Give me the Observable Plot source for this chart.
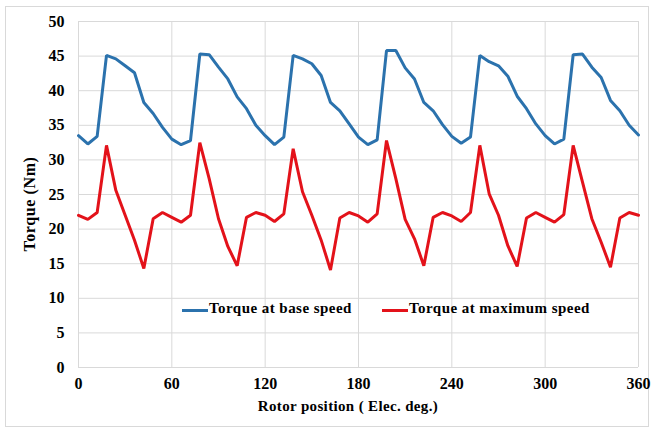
<!DOCTYPE html>
<html>
<head>
<meta charset="utf-8">
<script src="https://cdn.jsdelivr.net/npm/d3@7"></script>
<script src="https://cdn.jsdelivr.net/npm/@observablehq/plot@0.6"></script>
<style>
  html, body { margin: 0; padding: 0; background: #fff; }
  #wrap { position: relative; width: 655px; height: 430px; overflow: hidden; font-family: "Liberation Serif", serif; font-weight: bold; color: #000; }
  #border { position: absolute; left: 5px; top: 6px; width: 644px; height: 421px; border: 1px solid #d9d9d9; box-sizing: border-box; }
  #chart { position: absolute; left: 0; top: 0; }
  .lbl { position: absolute; white-space: nowrap; font-size: 15px; }
  .sw { position: absolute; height: 3px; }
</style>
</head>
<body>
<div id="wrap">
  <div id="border"></div>
  <div id="chart"></div>
</div>
<script>
const angles = [0,6,12,18,24,30,36,42,48,54,60,66,72,78,84,90,96,102,108,114,120,126,132,138,144,150,156,162,168,174,180,186,192,198,204,210,216,222,228,234,240,246,252,258,264,270,276,282,288,294,300,306,312,318,324,330,336,342,348,354,360];
const baseSpeed = [33.5,32.3,33.4,45.1,44.6,43.6,42.6,38.3,36.7,34.7,33.0,32.2,32.8,45.3,45.2,43.4,41.7,39.1,37.4,35.0,33.5,32.2,33.3,45.1,44.6,43.9,42.2,38.3,37.1,35.2,33.3,32.2,32.9,45.8,45.8,43.3,41.7,38.3,37.1,35.1,33.4,32.4,33.3,45.1,44.2,43.6,42.1,39.2,37.4,35.2,33.5,32.3,33.0,45.2,45.3,43.4,41.9,38.6,37.1,35.0,33.6];
const maxSpeed = [22.0,21.4,22.4,32.1,25.6,22.0,18.4,14.3,21.5,22.4,21.7,21.0,22.0,32.5,27.3,21.5,17.5,14.7,21.7,22.4,22.0,21.1,22.2,31.6,25.4,22.0,18.4,14.1,21.6,22.4,21.9,21.0,22.2,32.8,27.3,21.4,18.6,14.7,21.7,22.4,21.9,21.1,22.4,32.1,25.1,22.0,17.6,14.6,21.6,22.4,21.7,21.0,22.1,32.1,26.8,21.5,18.1,14.5,21.6,22.4,22.0];
const seriesNames = ["Torque at base speed", "Torque at maximum speed"];
const seriesColors = ["#2b72ad", "#e3121a"];
const xTicks = [0,60,120,180,240,300,360];
const yTicks = [0,5,10,15,20,25,30,35,40,45,50];
const xTitle = "Rotor position ( Elec. deg.)";
const yTitle = "Torque (Nm)";

const data = [];
angles.forEach((a, i) => {
  data.push({angle: a, torque: baseSpeed[i], series: seriesNames[0]});
  data.push({angle: a, torque: maxSpeed[i], series: seriesNames[1]});
});

const chart = Plot.plot({
  width: 655,
  height: 430,
  marginLeft: 78,
  marginRight: 17,
  marginTop: 21,
  marginBottom: 63,
  style: {fontFamily: "Liberation Serif, serif", fontWeight: "bold", fontSize: "16px", color: "#000", background: "transparent"},
  x: {domain: [0, 360], ticks: xTicks, label: null},
  y: {domain: [0, 50], ticks: yTicks, label: null},
  color: {domain: seriesNames, range: seriesColors},
  marks: [
    Plot.gridX(xTicks, {stroke: "#d9d9d9", strokeOpacity: 1, strokeWidth: 1}),
    Plot.gridY(yTicks, {stroke: "#d9d9d9", strokeOpacity: 1, strokeWidth: 1}),
    Plot.axisX({ticks: xTicks, tickSize: 0, tickPadding: 10, fontSize: 16, fontWeight: "bold", label: null}),
    Plot.axisY({ticks: yTicks, tickSize: 0, tickPadding: 14, fontSize: 16, fontWeight: "bold", label: null}),
    Plot.line(data, {x: "angle", y: "torque", z: "series", stroke: "series", strokeWidth: 3, strokeLinejoin: "miter"})
  ]
});
document.getElementById("chart").appendChild(chart);

const wrap = document.getElementById("wrap");
function addLabel(text, left, top, extra) {
  const d = document.createElement("div");
  d.className = "lbl";
  d.textContent = text;
  d.style.left = left + "px";
  d.style.top = top + "px";
  if (extra) Object.assign(d.style, extra);
  wrap.appendChild(d);
  return d;
}
// axis titles
addLabel(xTitle, 348, 398, {transform: "translateX(-50%)", fontSize: "15px", letterSpacing: "0.35px"});
addLabel(yTitle, 30, 204, {transform: "translate(-50%,-50%) rotate(-90deg)", fontSize: "16px", letterSpacing: "0.6px"});
// legend
const legendX = [182, 382];
seriesNames.forEach((name, i) => {
  const s = document.createElement("div");
  s.className = "sw";
  s.style.left = legendX[i] + "px";
  s.style.top = "309px";
  s.style.width = "26px";
  s.style.background = seriesColors[i];
  wrap.appendChild(s);
  addLabel(name, legendX[i] + 27, 300, {fontSize: "15px", letterSpacing: "0.45px"});
});
</script>
</body>
</html>
